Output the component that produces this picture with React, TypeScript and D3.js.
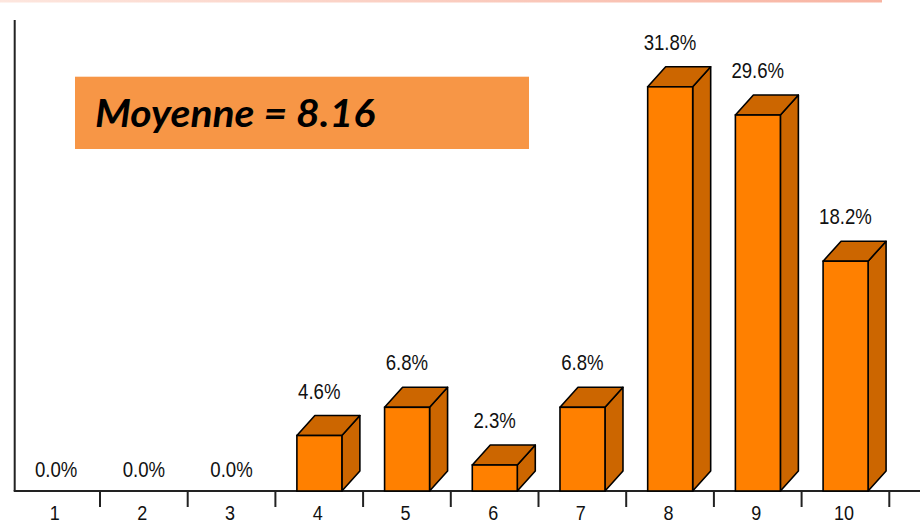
import React from "react";
import * as d3 from "d3";

const categories = ["1", "2", "3", "4", "5", "6", "7", "8", "9", "10"];
const values = [0, 0, 0, 4.6, 6.8, 2.3, 6.8, 31.8, 29.6, 18.2];
const valueLabels = ["0.0%", "0.0%", "0.0%", "4.6%", "6.8%", "2.3%", "6.8%", "31.8%", "29.6%", "18.2%"];
const meanText = "Moyenne = 8.16";

const W = 920;
const H = 523;
const BASE = 491;
const DX = 18;
const DY = 20;

export default function App() {
  const x = d3.scaleBand<string>().domain(categories).range([12.3, 889.3]).paddingInner(0).paddingOuter(0);
  const y = d3.scaleLinear().domain([0, 35]).range([494.5, 494.5 - 12.82 * 35]);
  const bw = x.bandwidth();
  const off = bw * 0.245;
  const fw = bw * 0.513;
  const ticks = categories.map((c) => (x(c) as number) + bw);

  const txt = (tx: number, ty: number, s: string, key: string) => (
    <text
      key={key}
      transform={`translate(${tx},${ty}) scale(1,1.16)`}
      textAnchor="middle"
      fontFamily="'Liberation Sans', Arial, sans-serif"
      fontSize={18.6}
      fill="#111"
    >
      {s}
    </text>
  );

  return (
    <svg width={W} height={H} style={{ position: "absolute", left: 0, top: 0, background: "#fff" }}>
      <defs>
        <linearGradient id="topline" x1="0" x2="1" y1="0" y2="0">
          <stop offset="0" stopColor="#fde6de" />
          <stop offset="1" stopColor="#f8b4a2" />
        </linearGradient>
      </defs>
      <rect x={0} y={0} width={882} height={2.5} fill="url(#topline)" />

      {/* y axis */}
      <line x1={14.7} x2={14.7} y1={20} y2={BASE} stroke="#222" strokeWidth={2} />
      {/* baseline */}
      <line x1={13.7} x2={W} y1={BASE} y2={BASE} stroke="#222" strokeWidth={2} />
      {ticks.map((t, i) => (
        <line key={"t" + i} x1={t} x2={t} y1={BASE} y2={507} stroke="#222" strokeWidth={2} />
      ))}

      {/* bars */}
      {categories.map((c, i) => {
        const v = values[i];
        const cx = (x(c) as number) + bw / 2;
        if (v <= 0) {
          return txt(cx, 477, valueLabels[i], "l" + i);
        }
        const fl = (x(c) as number) + off;
        const fr = fl + fw;
        const ft = y(v);
        return (
          <g key={"b" + i}>
            <path
              d={`M${fr},${BASE}L${fr + DX},${BASE - DY}L${fr + DX},${ft - DY}L${fr},${ft}Z`}
              fill="#cc6600"
              stroke="#000"
              strokeWidth={1.6}
              strokeLinejoin="round"
            />
            <path
              d={`M${fl},${ft}L${fl + DX},${ft - DY}L${fr + DX},${ft - DY}L${fr},${ft}Z`}
              fill="#cc6600"
              stroke="#000"
              strokeWidth={1.6}
              strokeLinejoin="round"
            />
            <rect x={fl} y={ft} width={fw} height={BASE - ft} fill="#ff8000" stroke="#000" strokeWidth={1.6} />
            {txt(cx, ft - DY - 17, valueLabels[i], "l" + i)}
          </g>
        );
      })}

      {/* x labels */}
      {categories.map((c, i) => (
        <text
          key={"x" + i}
          transform={`translate(${(x(c) as number) + bw / 2 - 1.5},520) scale(1,1.12)`}
          textAnchor="middle"
          fontFamily="'Liberation Sans', Arial, sans-serif"
          fontSize={18}
          fill="#111"
        >
          {c}
        </text>
      ))}

      {/* mean box */}
      <rect x={75} y={76.7} width={454} height={72.3} fill="#f79646" />
      <text
        x={95}
        y={127.3}
        fontFamily="Lato, 'Open Sans', sans-serif"
        fontWeight="bold"
        fontStyle="italic"
        fontSize={38}
        textLength={280}
        lengthAdjust="spacingAndGlyphs"
        fill="#000"
      >
        {meanText}
      </text>
    </svg>
  );
}
